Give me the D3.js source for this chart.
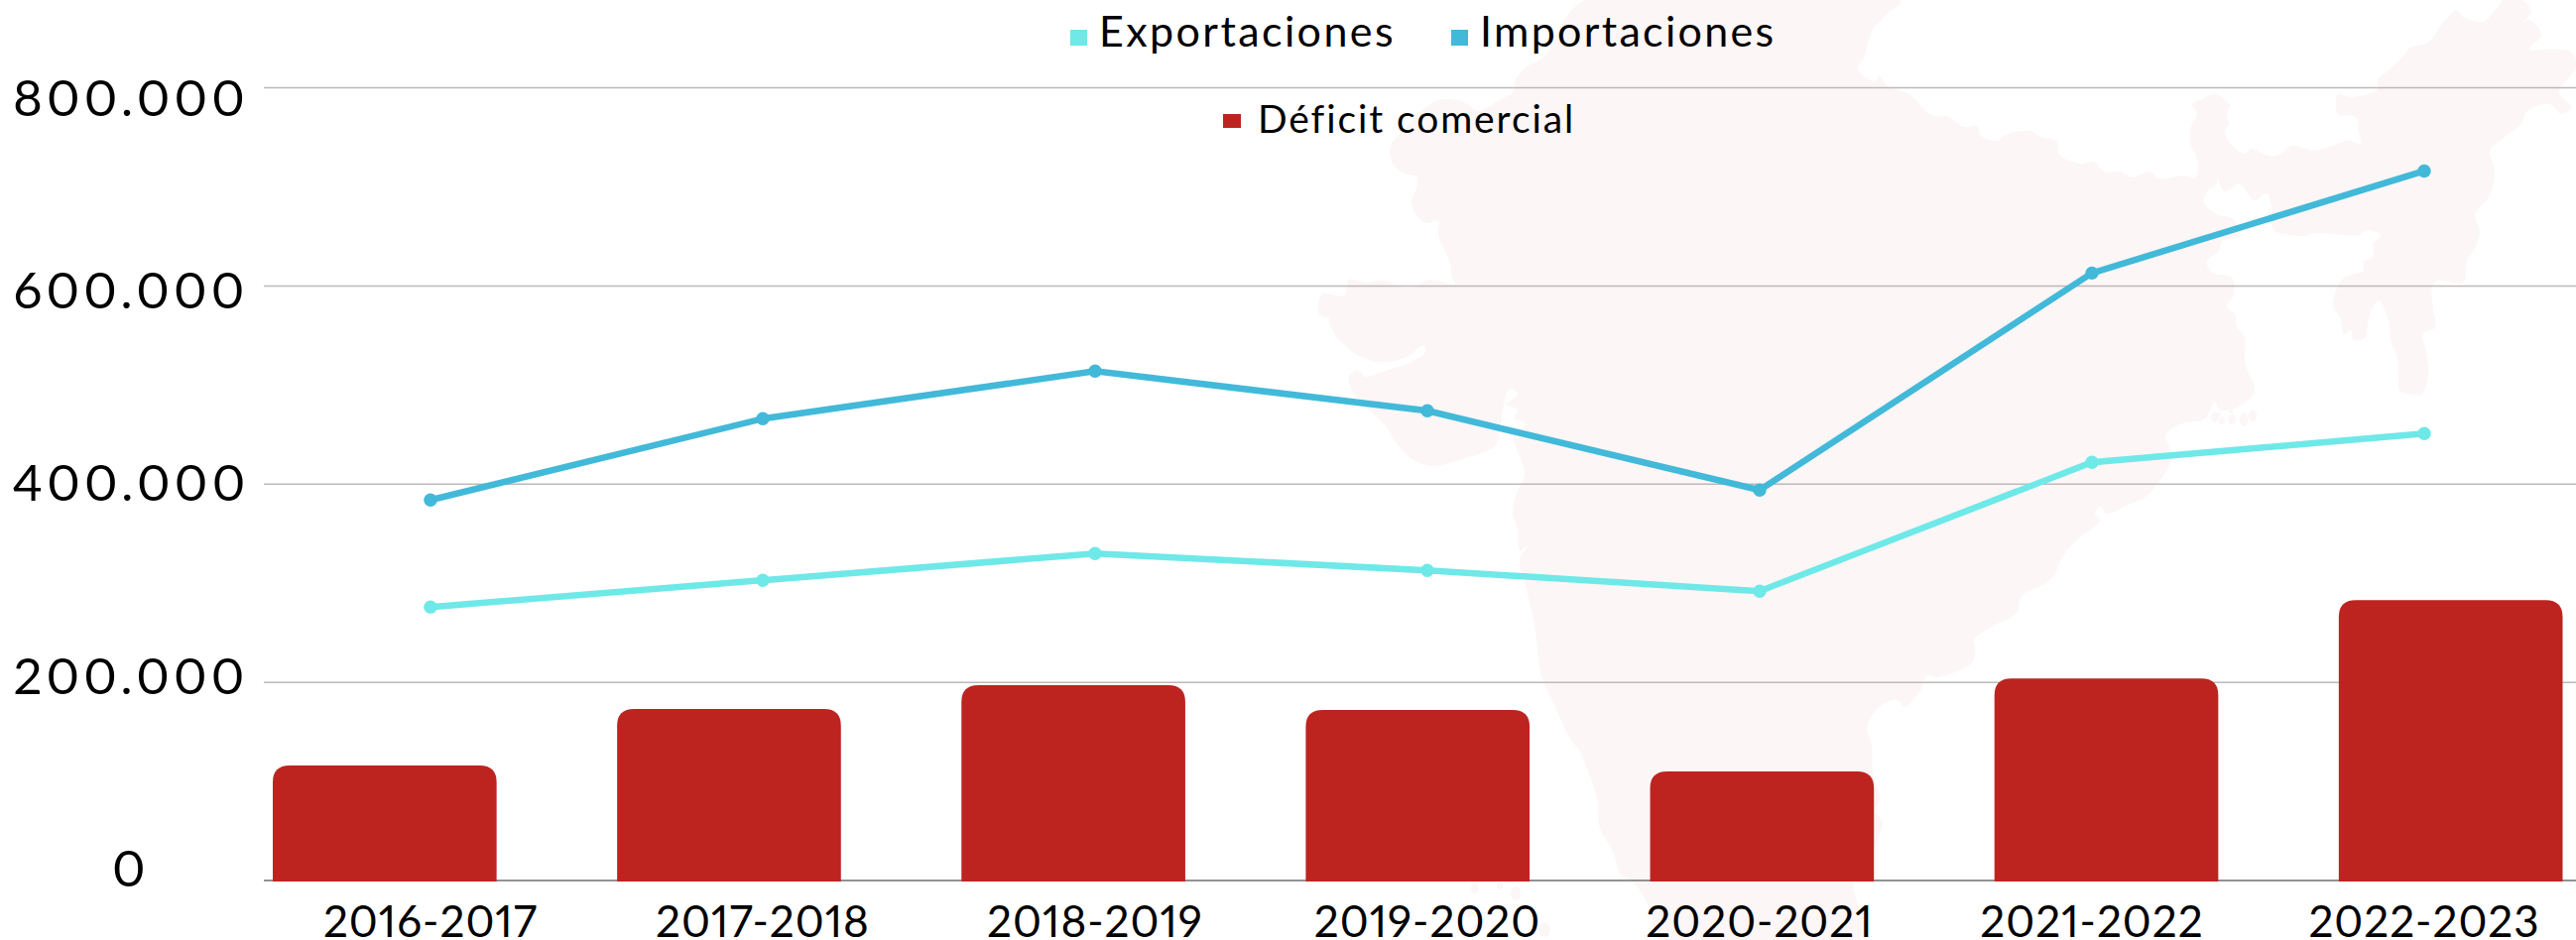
<!DOCTYPE html>
<html><head><meta charset="utf-8"><script src="https://d3js.org/d3.v7.min.js"></script>
<style>html,body{margin:0;background:#fff}svg{display:block}text{font-family:"Lato",sans-serif;font-weight:400;fill:#000;font-variant-numeric:proportional-nums;font-feature-settings:"pnum" 1}</style></head><body>
<script>
const categories=["2016-2017","2017-2018","2018-2019","2019-2020","2020-2021","2021-2022","2022-2023"];
const exportaciones=[276000,303000,330000,313000,292000,422000,451000];
const importaciones=[384000,466000,514000,474000,394000,613000,716000];
const deficit=[116000,173000,197000,172000,110000,204000,283000];
const yTicks=[0,200000,400000,600000,800000];
const colorExp="#6fe8e8",colorImp="#42b9d9",colorDef="#bd2420",mapColor="#fcf6f6";
// decorative silhouette behind the chart
const mapOutline=[[1607,-4],[1583,12],[1567,40],[1557,57],[1538,68],[1528,80],[1525,93],[1513,100],[1490,112],[1478,104],[1462,100],[1447,102],[1433,112],[1413,133],[1402,147],[1403,163],[1415,175],[1428,178],[1428,190],[1423,203],[1428,217],[1438,225],[1450,223],[1450,237],[1457,253],[1463,270],[1463,277],[1467,287],[1443,282],[1420,290],[1395,283],[1377,285],[1360,282],[1355,298],[1333,297],[1330,317],[1338,320],[1355,308],[1340,322],[1342,330],[1350,343],[1367,357],[1390,365],[1418,360],[1435,348],[1437,355],[1423,365],[1400,373],[1388,377],[1377,380],[1368,373],[1360,380],[1363,393],[1380,413],[1397,430],[1410,450],[1427,465],[1447,470],[1477,462],[1507,450],[1512,437],[1515,413],[1522,392],[1530,397],[1519,408],[1530,413],[1527,422],[1538,427],[1526,440],[1527,447],[1535,468],[1537,480],[1530,495],[1525,515],[1530,535],[1532,555],[1540,550],[1532,565],[1538,591],[1547,628],[1550,655],[1553,678],[1567,711],[1583,745],[1593,758],[1600,775],[1610,805],[1613,835],[1627,861],[1633,881],[1647,890],[1663,915],[1677,952],[1872,952],[1870,901],[1868,895],[1898,830],[1890,818],[1895,806],[1888,778],[1887,751],[1882,735],[1885,725],[1897,711],[1913,706],[1920,713],[1937,695],[1943,681],[1953,683],[1988,668],[1991,651],[1990,645],[2010,631],[2033,618],[2038,601],[2067,585],[2080,561],[2093,545],[2117,525],[2112,518],[2118,511],[2123,518],[2147,508],[2163,501],[2180,481],[2190,460],[2183,440],[2197,428],[2223,422],[2233,405],[2237,413],[2253,412],[2272,397],[2272,387],[2267,377],[2263,363],[2263,340],[2255,330],[2253,317],[2245,310],[2252,297],[2250,280],[2230,275],[2225,263],[2237,253],[2240,243],[2258,238],[2250,220],[2237,217],[2222,205],[2225,193],[2235,185],[2235,178],[2242,193],[2250,190],[2257,185],[2273,202],[2285,195],[2290,207],[2292,232],[2310,237],[2323,238],[2333,235],[2377,237],[2387,232],[2400,237],[2393,245],[2392,260],[2383,263],[2383,273],[2370,277],[2360,283],[2355,293],[2352,308],[2360,323],[2363,337],[2370,333],[2373,343],[2385,340],[2387,327],[2392,310],[2398,303],[2408,323],[2410,343],[2417,360],[2418,377],[2420,395],[2427,397],[2442,397],[2448,377],[2445,350],[2442,337],[2455,330],[2453,312],[2452,290],[2458,283],[2483,285],[2487,263],[2495,250],[2500,233],[2495,217],[2510,197],[2515,173],[2510,152],[2523,140],[2543,123],[2547,113],[2570,105],[2582,115],[2593,108],[2580,93],[2597,67],[2592,52],[2567,50],[2550,50],[2562,35],[2550,20],[2543,23],[2552,12],[2537,-4],[2528,-4],[2513,13],[2503,22],[2483,17],[2477,10],[2463,23],[2448,43],[2430,48],[2420,60],[2407,72],[2397,80],[2397,90],[2370,98],[2357,95],[2357,115],[2375,118],[2378,133],[2380,145],[2367,142],[2333,152],[2310,147],[2300,155],[2287,157],[2270,150],[2262,155],[2247,143],[2243,133],[2247,125],[2245,115],[2248,107],[2233,95],[2220,100],[2210,105],[2215,115],[2209,128],[2208,143],[2216,163],[2213,180],[2203,177],[2177,180],[2167,173],[2150,179],[2138,173],[2122,173],[2110,163],[2098,165],[2077,157],[2073,142],[2057,138],[2047,132],[2020,137],[2015,142],[1997,137],[1993,127],[1980,128],[1963,117],[1950,117],[1937,107],[1925,95],[1903,87],[1895,77],[1890,82],[1873,70],[1880,57],[1883,43],[1888,30],[1897,20],[1907,10],[1915,5],[1915,-4]];
const mapIslands=[[2233,421,4,5],[2240,424,3,4],[2250,423,4,5],[2237,418,2,2],[2249,415,2,2],[2262,423,4,7],[2271,419,4,6],[1487,896,4,5],[1512,893,3,4],[1528,901,5,7],[1480,921,5,4],[1513,917,4,3],[1492,935,5,4],[1557,938,6,7]];
const W=2597,H=948;
const svg=d3.select("body").append("svg").attr("width",W).attr("height",H);
const y=d3.scaleLinear().domain([0,800000]).range([888,88.5]);
const yLabel=d3.scaleLinear().domain([0,800000]).range([894,116.5]);
const xLine=d3.scalePoint().domain(categories).range([434,2444]);
const xBar=d3.scaleBand().domain(categories).range([275,2583.5]).paddingInner(0.35).paddingOuter(0);
const fmt=d=>d3.format(",")(d).replace(/,/g,".");
// map
svg.append("path").attr("fill",mapColor).attr("d",d3.line().curve(d3.curveCatmullRomClosed.alpha(0.5))(mapOutline));
svg.selectAll("ellipse").data(mapIslands).join("ellipse").attr("fill",mapColor).attr("cx",d=>d[0]).attr("cy",d=>d[1]).attr("rx",d=>d[2]).attr("ry",d=>d[3]);
// grid
svg.selectAll("line.grid").data(yTicks).join("line").attr("class","grid").attr("x1",266).attr("x2",W).attr("y1",d=>y(d)).attr("y2",d=>y(d)).attr("stroke",d=>d?"#bdb9b9":"#6f6f6f").attr("stroke-width",1.5);
// y labels
svg.selectAll("text.ylab").data(yTicks).join("text").attr("class","ylab").attr("x",132).attr("y",d=>yLabel(d)).attr("text-anchor","middle").attr("font-size",51).attr("letter-spacing",4.2).text(fmt);
// bars
const r=17;
svg.selectAll("path.bar").data(categories).join("path").attr("class","bar").attr("fill",colorDef).attr("d",(c,i)=>{
  const x0=xBar(c),x1=x0+xBar.bandwidth(),t=y(deficit[i]),b=y(0)+1;
  return `M${x0},${b}V${t+r}Q${x0},${t} ${x0+r},${t}H${x1-r}Q${x1},${t} ${x1},${t+r}V${b}Z`;
});
// lines
[[exportaciones,colorExp],[importaciones,colorImp]].forEach(([vals,col])=>{
  svg.append("path").datum(vals).attr("fill","none").attr("stroke",col).attr("stroke-width",6.5).attr("d",d3.line().x((d,i)=>xLine(categories[i])).y(d=>y(d)));
  svg.append("g").selectAll("circle").data(vals).join("circle").attr("fill",col).attr("cx",(d,i)=>xLine(categories[i])).attr("cy",d=>y(d)).attr("r",6.7);
});
// x labels
svg.selectAll("text.xlab").data(categories).join("text").attr("class","xlab").attr("x",d=>xLine(d)).attr("y",945).attr("text-anchor","middle").attr("font-size",44).attr("letter-spacing",1).text(d=>d);
// legend
const legend=[{n:"Exportaciones",c:colorExp,sx:1079,sy:30,sw:17,sh:16,tx:1108,ty:47,fs:43,ls:2.4},{n:"Importaciones",c:colorImp,sx:1463,sy:30,sw:17,sh:16,tx:1492,ty:47,fs:43,ls:2.3},{n:"Déficit comercial",c:colorDef,sx:1233,sy:115,sw:18,sh:14,tx:1268,ty:134,fs:39,ls:1.9}];
legend.forEach(l=>{
  svg.append("rect").attr("x",l.sx).attr("y",l.sy).attr("width",l.sw).attr("height",l.sh).attr("fill",l.c);
  svg.append("text").attr("x",l.tx).attr("y",l.ty).attr("font-size",l.fs).attr("letter-spacing",l.ls).text(l.n);
});
</script></body></html>
